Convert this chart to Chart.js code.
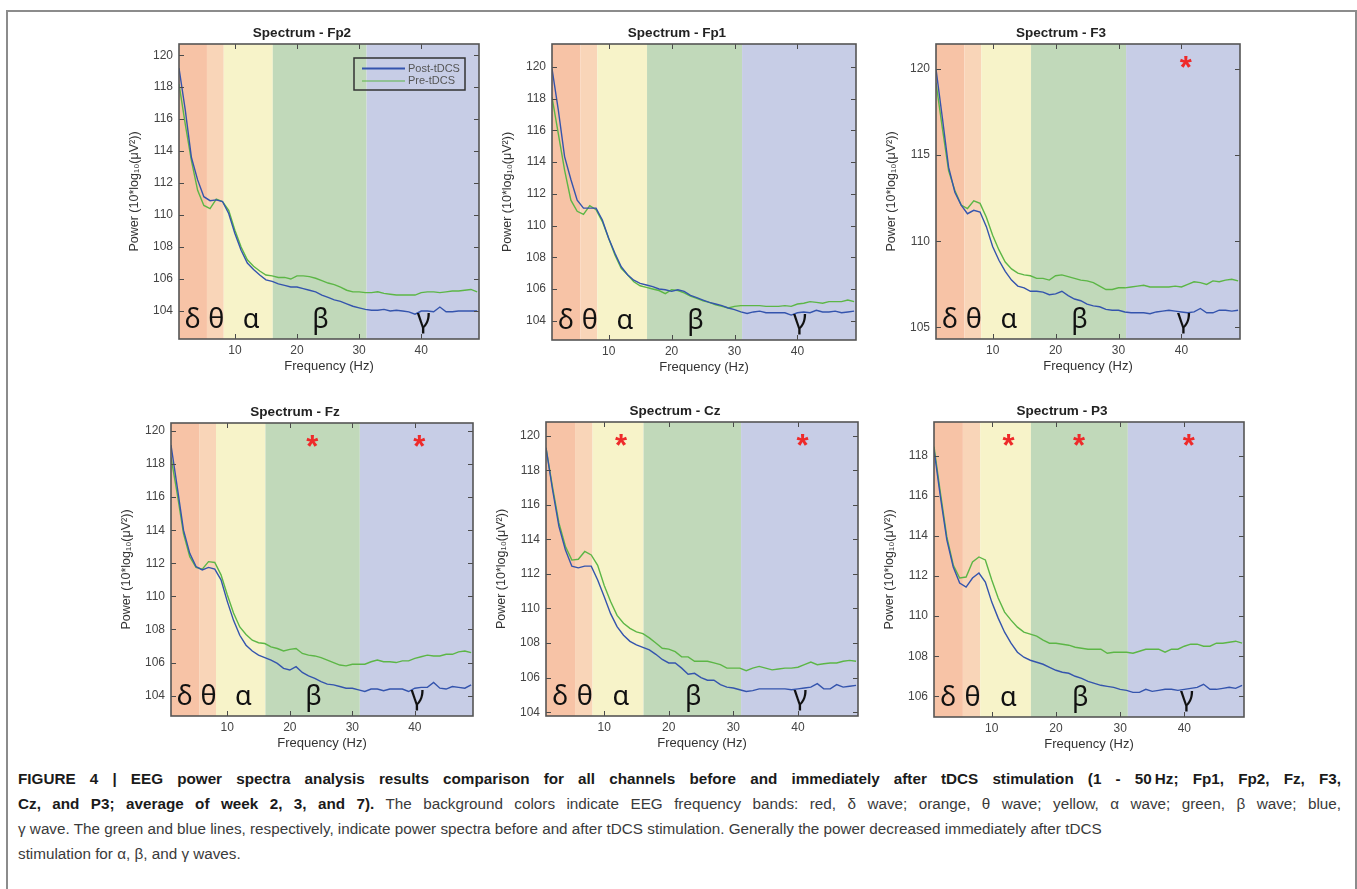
<!DOCTYPE html>
<html>
<head>
<meta charset="utf-8">
<script src="https://cdn.jsdelivr.net/npm/chart.js@4.4.1/dist/chart.umd.min.js"></script>
<style>
  body { margin: 0; background: #fff; width: 1357px; height: 889px; overflow: hidden; position: relative; font-family: "Liberation Sans", Arial, sans-serif; }
  #frame { position: absolute; left: 6px; top: 10px; width: 1347px; height: 900px; border: 2px solid #8c8c8c; border-bottom: none; }
  canvas.panel { position: absolute; }
  #caption { position: absolute; left: 18px; top: 766px; width: 1323px; font-size: 15.25px; line-height: 25px; color: #3a3a3a; }
  #caption div { white-space: nowrap; }
  #caption div.j { text-align: justify; text-align-last: justify; white-space: normal; }
  #caption b { color: #1a1a1a; }
</style>
</head>
<body>
<div id="frame"></div>
<div id="caption">
<div class="j"><b>FIGURE 4 | EEG power spectra analysis results comparison for all channels before and immediately after tDCS stimulation (1 - 50&#8201;Hz; Fp1, Fp2, Fz, F3,</b></div>
<div class="j"><b>Cz, and P3; average of week 2, 3, and 7).</b> The background colors indicate EEG frequency bands: red, δ wave; orange, θ wave; yellow, α wave; green, β wave; blue,</div>
<div>γ wave. The green and blue lines, respectively, indicate power spectra before and after tDCS stimulation. Generally the power decreased immediately after tDCS</div>
<div>stimulation for α, β, and γ waves.</div>
</div>
<script>
// frequency axis (Hz)
const freqHz = [1,2,3,4,5,6,7,8,9,10,11,12,13,14,15,16,17,18,19,20,21,22,23,24,25,26,27,28,29,30,31,32,33,34,35,36,37,38,39,40,41,42,43,44,45,46,47,48,49];
const xTicks = [10, 20, 30, 40];

// frequency bands
const bandNames = ['δ', 'θ', 'α', 'β', 'γ'];
const bandEdges = [1, 5.5, 8.2, 16.1, 31.2, 50];
const bandLabelHz = [3.2, 7.0, 12.6, 23.8, 40.4];
const starHz = { 'α': 12.6, 'β': 23.6, 'γ': 40.7 };

// power spectra, 10*log10(uV^2)
const fp2Post = [119.2,116.6,113.6,112.2,111.15,110.9,110.95,110.85,110.1,108.85,107.8,107.0,106.6,106.25,105.95,105.85,105.7,105.6,105.5,105.5,105.4,105.3,105.2,105.0,104.85,104.7,104.6,104.45,104.3,104.2,104.1,104.05,104.05,104.1,104.0,104.05,104.0,103.95,103.8,104.0,104.0,103.95,104.25,103.95,103.95,104.0,104.0,104.0,104.0];
const fp2Pre  = [118.2,115.7,113.4,111.55,110.6,110.4,111.0,110.85,110.3,109.05,108.0,107.2,106.8,106.5,106.25,106.2,106.1,106.1,106.0,106.2,106.2,106.15,106.05,105.9,105.75,105.65,105.5,105.3,105.2,105.2,105.15,105.15,105.2,105.1,105.05,105.0,105.0,105.0,105.0,105.15,105.2,105.2,105.15,105.2,105.25,105.25,105.3,105.35,105.2];
const fp1Post = [119.9,117.3,114.35,112.9,111.6,111.1,111.1,111.1,110.35,109.2,108.25,107.4,106.9,106.55,106.35,106.25,106.15,106.0,105.95,105.85,105.95,105.85,105.6,105.45,105.3,105.15,105.05,104.95,104.8,104.7,104.55,104.45,104.55,104.6,104.5,104.5,104.5,104.5,104.35,104.5,104.55,104.5,104.65,104.55,104.55,104.6,104.5,104.55,104.6];
const fp1Pre  = [118.1,115.8,113.5,111.6,110.9,110.7,111.25,111.0,110.25,109.2,108.15,107.3,106.9,106.45,106.2,106.1,106.0,105.9,105.7,105.95,105.9,105.75,105.55,105.4,105.25,105.15,105.0,104.9,104.8,104.9,104.95,104.95,104.95,104.95,104.9,104.9,104.9,104.95,104.9,105.05,105.1,105.2,105.15,105.1,105.2,105.2,105.2,105.3,105.2];
const f3Post  = [120.0,117.2,114.3,112.85,112.1,111.6,111.8,111.7,110.85,109.7,108.9,108.25,107.75,107.4,107.3,107.1,107.1,107.05,106.9,106.95,107.1,106.85,106.65,106.55,106.35,106.25,106.2,106.05,106.0,106.0,105.9,105.85,105.85,105.85,105.8,105.9,105.95,106.0,105.95,105.9,105.85,105.9,106.1,105.85,105.85,106.0,106.0,105.95,106.0];
const f3Pre   = [119.2,116.6,114.1,112.95,112.1,111.9,112.35,112.2,111.4,110.35,109.5,108.8,108.4,108.15,108.05,108.0,107.85,107.85,107.75,108.0,108.05,107.95,107.85,107.75,107.7,107.6,107.4,107.2,107.2,107.3,107.3,107.35,107.4,107.45,107.35,107.35,107.35,107.35,107.4,107.35,107.5,107.65,107.6,107.5,107.7,107.65,107.75,107.8,107.7];
const fzPost  = [119.15,116.6,114.0,112.6,111.8,111.6,111.75,111.65,111.0,109.7,108.55,107.65,107.05,106.7,106.45,106.3,106.15,105.95,105.65,105.55,105.75,105.4,105.2,105.05,104.85,104.7,104.65,104.55,104.45,104.45,104.35,104.25,104.4,104.4,104.3,104.4,104.4,104.4,104.25,104.45,104.5,104.5,104.8,104.45,104.4,104.55,104.5,104.45,104.65];
const fzPre   = [118.4,116.2,113.8,112.4,111.75,111.65,112.1,112.05,111.3,110.1,109.0,108.15,107.7,107.35,107.2,107.15,106.95,106.85,106.7,106.8,106.85,106.55,106.45,106.4,106.3,106.15,106.0,105.85,105.8,105.9,105.9,105.9,106.05,106.15,106.05,106.05,106.0,106.1,106.1,106.25,106.35,106.45,106.4,106.4,106.5,106.5,106.65,106.7,106.6];
const czPost  = [119.3,116.9,114.75,113.4,112.45,112.35,112.45,112.45,111.65,110.7,109.7,108.95,108.45,108.1,107.9,107.75,107.6,107.35,107.05,106.85,106.85,106.55,106.2,106.25,106.0,105.85,105.85,105.6,105.45,105.4,105.3,105.2,105.25,105.35,105.35,105.35,105.35,105.35,105.3,105.35,105.4,105.45,105.65,105.35,105.35,105.6,105.45,105.5,105.55];
const czPre   = [119.3,117.05,114.95,113.6,112.8,112.85,113.3,113.1,112.5,111.35,110.4,109.6,109.15,108.85,108.65,108.55,108.3,108.0,107.7,107.65,107.5,107.2,107.2,106.95,106.95,106.95,106.85,106.75,106.55,106.55,106.55,106.4,106.55,106.65,106.55,106.45,106.5,106.55,106.55,106.6,106.75,106.9,106.75,106.8,106.85,106.85,106.95,107.0,106.95];
const p3Post  = [118.3,115.95,113.8,112.45,111.65,111.45,111.9,112.15,111.7,110.7,109.9,109.2,108.65,108.2,107.95,107.8,107.7,107.6,107.45,107.3,107.2,107.15,107.0,106.9,106.75,106.65,106.55,106.5,106.45,106.35,106.3,106.2,106.2,106.35,106.25,106.3,106.35,106.35,106.3,106.35,106.4,106.45,106.6,106.35,106.35,106.4,106.45,106.4,106.55];
const p3Pre   = [118.45,116.15,113.95,112.55,111.9,111.95,112.7,112.95,112.8,111.8,110.9,110.2,109.8,109.45,109.2,109.1,109.0,108.8,108.65,108.65,108.6,108.55,108.45,108.4,108.35,108.35,108.35,108.15,108.2,108.2,108.2,108.15,108.25,108.35,108.35,108.35,108.2,108.35,108.35,108.5,108.6,108.6,108.5,108.5,108.65,108.65,108.7,108.75,108.65];

// y ticks per channel
const yTicksFp2 = [104,106,108,110,112,114,116,118,120];
const yTicksFp1 = [104,106,108,110,112,114,116,118,120];
const yTicksF3  = [105,110,115,120];
const yTicksFz  = [104,106,108,110,112,114,116,118,120];
const yTicksCz  = [104,106,108,110,112,114,116,118,120];
const yTicksP3  = [106,108,110,112,114,116,118];

// bands with significant change (red asterisks)
const starsFp2 = [];
const starsFp1 = [];
const starsF3  = ['γ'];
const starsFz  = ['β', 'γ'];
const starsCz  = ['α', 'γ'];
const starsP3  = ['α', 'β', 'γ'];

const seriesNames = ['Post-tDCS', 'Pre-tDCS'];

// layout: plot area in page pixels
const panels = [
  { ch: 'Fp2', post: fp2Post, pre: fp2Pre, yMin: 102.25, yMax: 120.7,  yTicks: yTicksFp2, stars: starsFp2, legend: true, L: 179, T: 44,  R: 479,  B: 339 },
  { ch: 'Fp1', post: fp1Post, pre: fp1Pre, yMin: 102.78, yMax: 121.45, yTicks: yTicksFp1, stars: starsFp1, L: 552, T: 44,  R: 856,  B: 340 },
  { ch: 'F3',  post: f3Post,  pre: f3Pre,  yMin: 104.33, yMax: 121.45, yTicks: yTicksF3,  stars: starsF3,  L: 936, T: 44,  R: 1240, B: 339 },
  { ch: 'Fz',  post: fzPost,  pre: fzPre,  yMin: 102.77, yMax: 120.48, yTicks: yTicksFz,  stars: starsFz,  L: 171, T: 423, R: 473,  B: 716 },
  { ch: 'Cz',  post: czPost,  pre: czPre,  yMin: 103.78, yMax: 120.79, yTicks: yTicksCz,  stars: starsCz,  L: 546, T: 422, R: 858,  B: 716 },
  { ch: 'P3',  post: p3Post,  pre: p3Pre,  yMin: 104.97, yMax: 119.68, yTicks: yTicksP3,  stars: starsP3,  L: 934, T: 422, R: 1244, B: 717 }
];

const bandColors = ['#f7c3a6', '#f9d5b8', '#f7f3c9', '#c1d9ba', '#c7cde6'];
const postColor = '#3454ad';
const preColor = '#5cb646';
const yW = 54, topH = 30, xH = 38, rightPad = 10;

Chart.defaults.font.family = '"Liberation Sans", Arial, sans-serif';

const spectrumPlugin = {
  id: 'spectrum',
  beforeDatasetsDraw(chart, args, opts) {
    const { ctx, chartArea: a, scales: { x } } = chart;
    ctx.save();
    for (let i = 0; i < bandNames.length; i++) {
      const x0 = x.getPixelForValue(Math.max(bandEdges[i], x.min));
      const x1 = x.getPixelForValue(Math.min(bandEdges[i + 1], x.max));
      ctx.fillStyle = bandColors[i];
      ctx.fillRect(x0, a.top, x1 - x0, a.bottom - a.top);
    }
    ctx.restore();
  },
  afterDatasetsDraw(chart, args, opts) {
    const { ctx, chartArea: a, scales: { x, y } } = chart;
    ctx.save();
    // band letters
    ctx.fillStyle = '#111';
    ctx.font = '27px "Noto Sans", sans-serif';
    ctx.textAlign = 'center';
    ctx.textBaseline = 'alphabetic';
    bandNames.forEach((n, i) => ctx.fillText(n, x.getPixelForValue(bandLabelHz[i]), a.bottom - 11));
    // significance stars
    ctx.fillStyle = '#ee2a2a';
    ctx.font = 'bold 31px "Liberation Sans", sans-serif';
    opts.stars.forEach(b => ctx.fillText('*', x.getPixelForValue(starHz[b]), a.top + 34));
    // legend
    if (opts.legend) {
      const bw = 111, bh = 32;
      const bx = a.right - 14 - bw, by = a.top + 14;
      ctx.strokeStyle = '#333';
      ctx.lineWidth = 1.5;
      ctx.strokeRect(bx, by, bw, bh);
      ctx.font = '11px "Liberation Sans", sans-serif';
      ctx.textAlign = 'left';
      ctx.textBaseline = 'middle';
      chart.data.datasets.forEach((ds, i) => {
        const ly = by + 10.5 + i * 12.5;
        ctx.strokeStyle = ds.borderColor;
        ctx.lineWidth = i === 0 ? 1.8 : 1.2;
        ctx.beginPath();
        ctx.moveTo(bx + 8, ly);
        ctx.lineTo(bx + 51, ly);
        ctx.stroke();
        ctx.fillStyle = '#555';
        ctx.fillText(ds.label, bx + 54, ly);
      });
    }
    // inward ticks and box
    ctx.strokeStyle = '#4a4a4a';
    ctx.lineWidth = 1;
    ctx.beginPath();
    x.ticks.forEach(t => {
      const px = Math.round(x.getPixelForValue(t.value)) + 0.5;
      ctx.moveTo(px, a.bottom); ctx.lineTo(px, a.bottom - 5);
      ctx.moveTo(px, a.top); ctx.lineTo(px, a.top + 5);
    });
    y.ticks.forEach(t => {
      const py = Math.round(y.getPixelForValue(t.value)) + 0.5;
      ctx.moveTo(a.left, py); ctx.lineTo(a.left + 5, py);
      ctx.moveTo(a.right, py); ctx.lineTo(a.right - 5, py);
    });
    ctx.stroke();
    ctx.strokeStyle = '#555';
    ctx.lineWidth = 1.6;
    ctx.strokeRect(a.left, a.top, a.right - a.left, a.bottom - a.top);
    ctx.restore();
  }
};

panels.forEach(p => {
  const cv = document.createElement('canvas');
  cv.className = 'panel';
  const w = yW + (p.R - p.L) + rightPad;
  const h = topH + (p.B - p.T) + xH;
  cv.width = w; cv.height = h;
  cv.style.left = (p.L - yW) + 'px';
  cv.style.top = (p.T - topH) + 'px';
  cv.style.width = w + 'px';
  cv.style.height = h + 'px';
  document.body.appendChild(cv);

  new Chart(cv.getContext('2d'), {
    type: 'line',
    data: {
      labels: freqHz,
      datasets: [
        { label: seriesNames[0], data: freqHz.map((f, i) => ({ x: f, y: p.post[i] })), borderColor: postColor, borderWidth: 1.4, pointRadius: 0, tension: 0 },
        { label: seriesNames[1], data: freqHz.map((f, i) => ({ x: f, y: p.pre[i] })), borderColor: preColor, borderWidth: 1.4, pointRadius: 0, tension: 0 }
      ]
    },
    options: {
      responsive: false,
      animation: false,
      events: [],
      layout: { padding: { left: 0, right: rightPad, top: 0, bottom: 0 } },
      plugins: {
        legend: { display: false },
        tooltip: { enabled: false },
        title: {
          display: true,
          text: 'Spectrum - ' + p.ch,
          color: '#222',
          font: { size: 13.5, weight: 'bold' },
          padding: { top: topH - 19.1, bottom: 2.9 }
        },
        spectrum: { stars: p.stars, legend: !!p.legend }
      },
      scales: {
        x: {
          type: 'linear',
          min: 1, max: 49.3,
          grid: { display: false, drawTicks: false },
          border: { display: false },
          afterBuildTicks: s => { s.ticks = xTicks.map(v => ({ value: v })); },
          afterFit: s => { s.height = xH; },
          ticks: { color: '#444', font: { size: 12 }, padding: 4, maxRotation: 0 },
          title: { display: true, text: 'Frequency (Hz)', color: '#333', font: { size: 13 }, padding: { top: 0, bottom: 2.5 } }
        },
        y: {
          min: p.yMin, max: p.yMax,
          grid: { display: false, drawTicks: false },
          border: { display: false },
          afterBuildTicks: s => { s.ticks = p.yTicks.map(v => ({ value: v })); },
          afterFit: s => { s.width = yW; },
          ticks: { color: '#444', font: { size: 12 }, padding: 6 },
          title: { display: true, text: 'Power (10*log₁₀(μV²))', color: '#333', font: { size: 12.5 }, padding: { top: 2.5, bottom: 0 } }
        }
      }
    },
    plugins: [spectrumPlugin]
  });
});
</script>
</body>
</html>
